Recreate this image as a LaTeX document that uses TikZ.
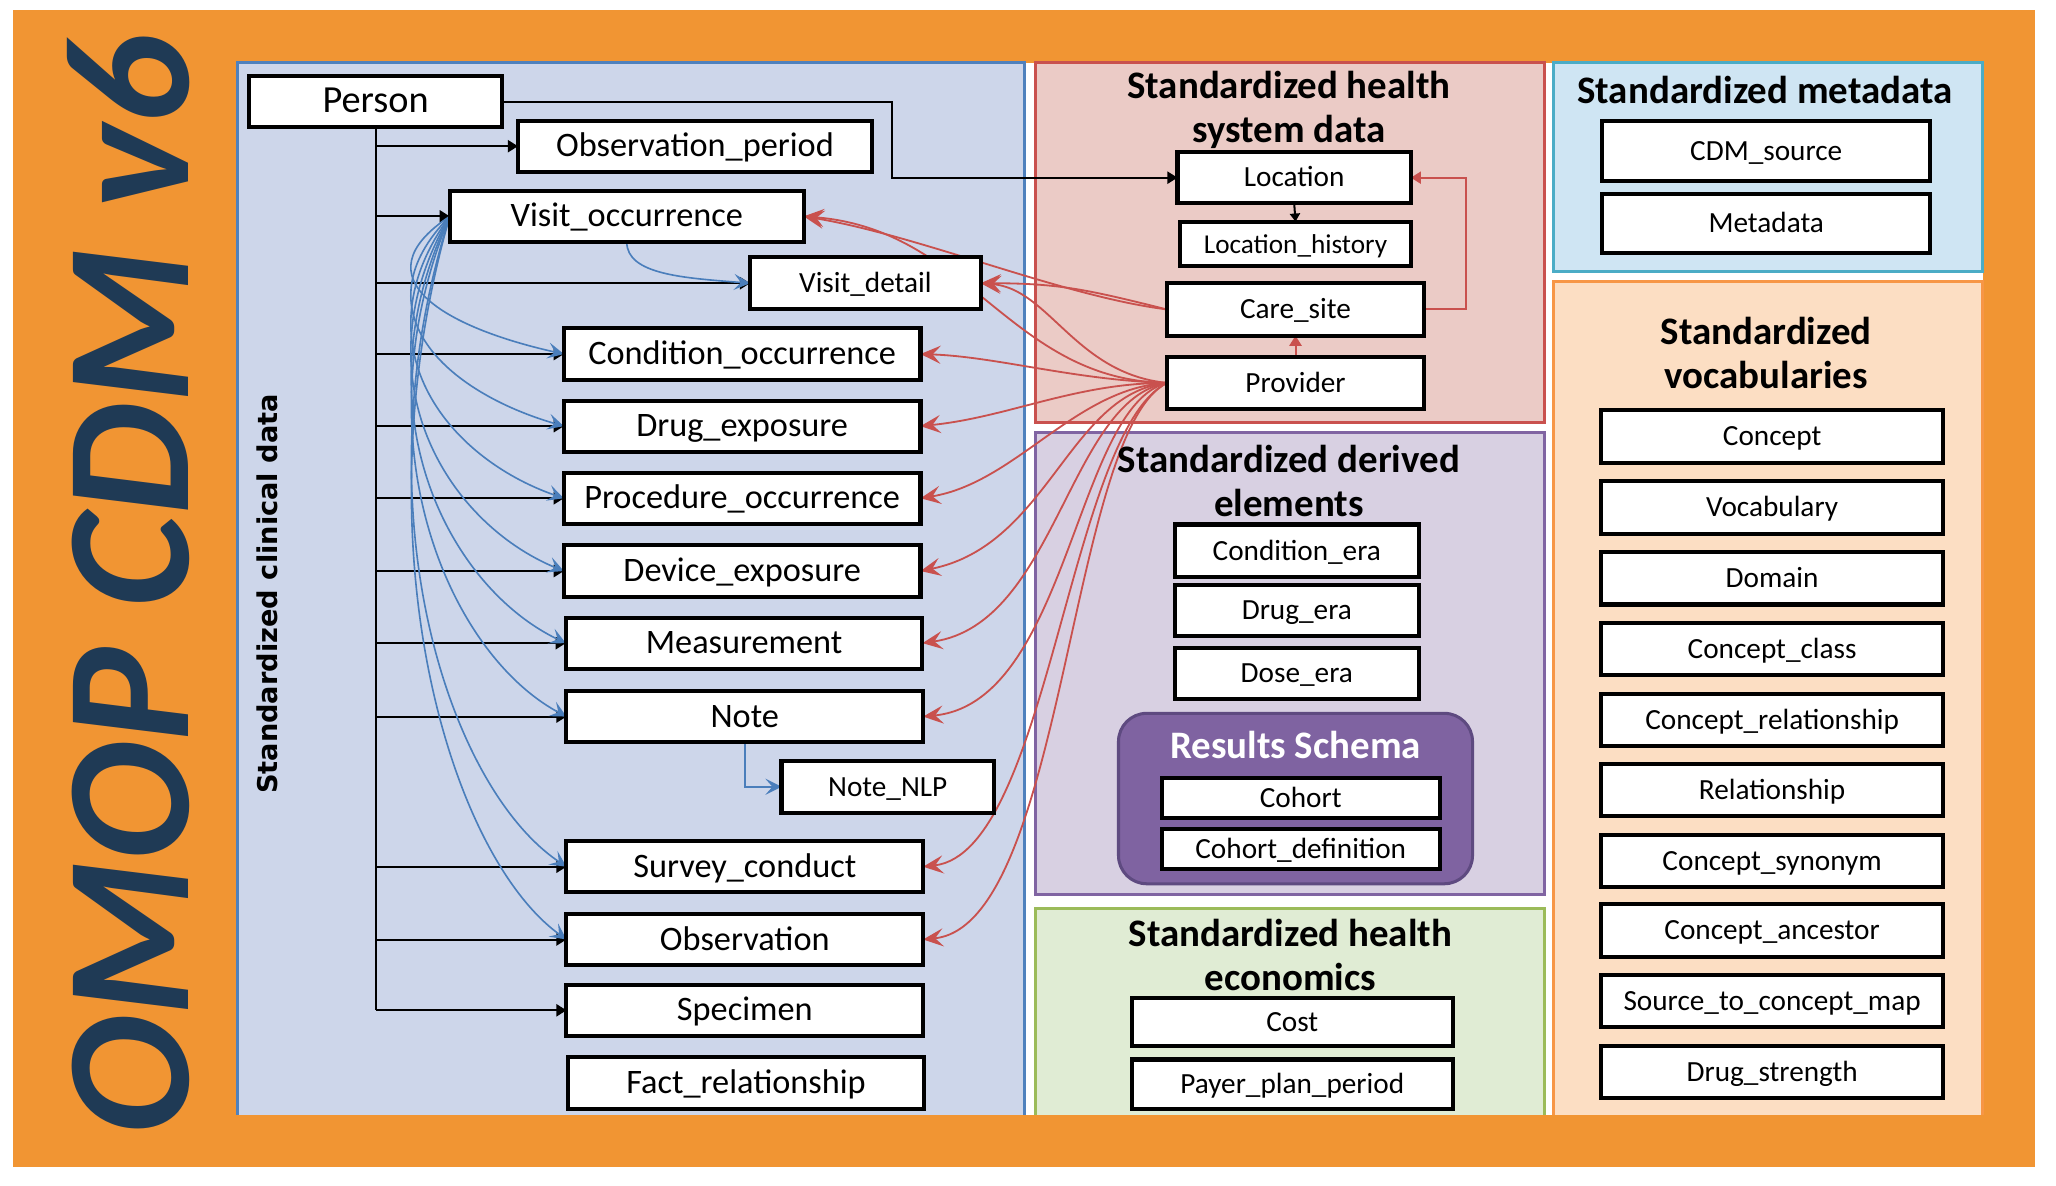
\documentclass[tikz,border=0pt]{standalone}
\usepackage{fontspec}
\setmainfont{Carlito}
\newfontfamily\labelfont{DejaVu Sans}
\usetikzlibrary{arrows.meta,calc}
\pgfdeclarelayer{back}
\pgfdeclarelayer{links}
\pgfsetlayers{back,links,main}
\definecolor{bgorange}{HTML}{F19533}
\definecolor{titlenavy}{HTML}{1F3A55}
\definecolor{clinfill}{HTML}{CDD6EA}
\definecolor{clinline}{HTML}{4F81BD}
\definecolor{sysfill}{HTML}{EBCBC6}
\definecolor{sysline}{HTML}{C9514E}
\definecolor{derfill}{HTML}{D8D0E2}
\definecolor{derline}{HTML}{8064A2}
\definecolor{ecofill}{HTML}{E0ECD4}
\definecolor{ecoline}{HTML}{9BBB59}
\definecolor{metafill}{HTML}{CFE5F3}
\definecolor{metaline}{HTML}{4BACC6}
\definecolor{vocfill}{HTML}{FCDEC3}
\definecolor{vocline}{HTML}{F79646}
\definecolor{resfill}{HTML}{7F63A1}
\definecolor{resline}{HTML}{5E4A80}
\definecolor{bluelink}{HTML}{4A7EBB}
\definecolor{redlink}{HTML}{C9514E}

\begin{document}
\begin{tikzpicture}[y=0.65pt, x=0.65pt, yscale=-1, inner sep=0pt, outer sep=0pt,
  tab/.style={draw=black, fill=white, line width=2pt},
  bigtab/.style={tab, minimum width=176.8pt, minimum height=25.4pt,
    text height=12.5pt, text depth=2pt, font=\fontsize{17}{20}\selectfont},
  smalltab/.style={tab, minimum height=26pt, text height=10.5pt, text depth=1.3pt,
    font=\fontsize{14.5}{17}\selectfont},
  paneltitle/.style={align=center, font=\fontsize{19.3}{21.8}\selectfont\bfseries},
  feed/.style={draw=black, line width=1pt, -{Triangle[length=5pt,width=6pt]}},
  visitlink/.style={draw=bluelink, line width=0.8pt, -{Stealth[length=8pt,width=8pt,inset=3.5pt]}},
  carelink/.style={draw=redlink, line width=0.9pt, -{Stealth[length=10pt,width=9pt,inset=4pt]}}]
\useasboundingbox (0,0) rectangle (1568,904);

% panels
\begin{pgfonlayer}{back}
  \path[fill=bgorange] (10,8) rectangle (1552,890);
  \path[fill=white] (181,48) rectangle (1512,850);
  \path[fill=clinfill] (181,48) rectangle (781,850);
  \path[draw=clinline, line width=1.5pt] (181,850) -- (181,48) -- (781,48) -- (781,850);
  \path[draw=sysline, fill=sysfill, line width=1.5pt] (790,48) rectangle (1178,322);
  \path[draw=derline, fill=derfill, line width=1.5pt] (790,330) rectangle (1178,682);
  \path[fill=ecofill] (790,693) rectangle (1178,850);
  \path[draw=ecoline, line width=1.5pt] (790,850) -- (790,693) -- (1178,693) -- (1178,850);
  \path[draw=metaline, fill=metafill, line width=1.5pt] (1185,48) rectangle (1512,207);
  \path[fill=vocfill] (1185,215) rectangle (1512,850);
  \path[draw=vocline, line width=1.5pt] (1185,850) -- (1185,215) -- (1512,215) -- (1512,850);
  \path[draw=resline, fill=resfill, line width=1.5pt, rounded corners=14pt] (853,544) rectangle (1123,674);
\end{pgfonlayer}

\node[rotate=90, text=titlenavy, font=\fontsize{88}{88}\selectfont\bfseries\itshape] (omop) at (98,446) {OMOP CDM v6};
\node[rotate=90, font=\labelfont\bfseries\fontsize{13.5}{16}\selectfont] (clinlabel) at (204,453) {Standardized clinical data};

% clinical data
\node[bigtab, minimum width=125.5pt, font=\fontsize{19}{22}\selectfont] (person) at (286.5,77.5) {Person};
\node[bigtab, minimum width=175.5pt] (obsperiod) at (530,111.5) {Observation\_period};
\node[bigtab, minimum width=175.5pt] (visitocc) at (478,165) {Visit\_occurrence};
\node[smalltab, minimum width=114.4pt] (visitdet) at (660,216) {Visit\_detail};
\node[bigtab] (condocc) at (566,270) {Condition\_occurrence};
\node[bigtab] (drugexp) at (566,325) {Drug\_exposure};
\node[bigtab] (prococc) at (566,380) {Procedure\_occurrence};
\node[bigtab] (devexp) at (566,435.5) {Device\_exposure};
\node[bigtab] (meas) at (567.5,490.5) {Measurement};
\node[bigtab] (note) at (568,546.5) {Note};
\node[smalltab, minimum width=105.3pt] (notenlp) at (677,600) {Note\_NLP};
\node[bigtab] (survey) at (568,661) {Survey\_conduct};
\node[bigtab] (obs) at (568,716.5) {Observation};
\node[bigtab] (specimen) at (568,770.5) {Specimen};
\node[bigtab] (factrel) at (569,826) {Fact\_relationship};

% health system data
\node[paneltitle] (systitle) at (983,84) {Standardized health\\system data};
\node[smalltab, minimum width=115.7pt, minimum height=25.4pt] (location) at (987,135.5) {Location};
\node[smalltab, minimum width=114.4pt, minimum height=22.1pt, font=\fontsize{13.5}{16}\selectfont] (lochist) at (988,186) {Location\_history};
\node[smalltab, minimum width=127.4pt] (caresite) at (988,236) {Care\_site};
\node[smalltab, minimum width=127.4pt] (provider) at (988,292) {Provider};

% metadata
\node[paneltitle] (metatitle) at (1346,69) {Standardized metadata};
\node[smalltab, minimum width=162.5pt, minimum height=29.9pt] (cdmsource) at (1347,115) {CDM\_source};
\node[smalltab, minimum width=162.5pt, minimum height=29.3pt] (metadata) at (1347,170.5) {Metadata};

% vocabularies
\node[paneltitle] (voctitle) at (1347,269) {Standardized\\vocabularies};
\node[smalltab, minimum width=169.7pt] (concept) at (1351.5,333) {Concept};
\node[smalltab, minimum width=169.7pt] (vocabulary) at (1351.5,387) {Vocabulary};
\node[smalltab, minimum width=169.7pt] (domain) at (1351.5,441) {Domain};
\node[smalltab, minimum width=169.7pt] (conceptclass) at (1351.5,495) {Concept\_class};
\node[smalltab, minimum width=169.7pt] (conceptrel) at (1351.5,549) {Concept\_relationship};
\node[smalltab, minimum width=169.7pt] (relationship) at (1351.5,602.5) {Relationship};
\node[smalltab, minimum width=169.7pt] (conceptsyn) at (1351.5,656.5) {Concept\_synonym};
\node[smalltab, minimum width=169.7pt] (conceptanc) at (1351.5,709.5) {Concept\_ancestor};
\node[smalltab, minimum width=169.7pt] (sourcemap) at (1351.5,763.5) {Source\_to\_concept\_map};
\node[smalltab, minimum width=169.7pt] (drugstrength) at (1351.5,817.5) {Drug\_strength};

% derived elements
\node[paneltitle] (dertitle) at (983,367) {Standardized derived\\elements};
\node[smalltab, minimum width=120.9pt] (condera) at (989,420) {Condition\_era};
\node[smalltab, minimum width=120.9pt, minimum height=25.4pt] (drugera) at (989,465.5) {Drug\_era};
\node[smalltab, minimum width=120.9pt, minimum height=25.4pt] (doseera) at (989,513.5) {Dose\_era};
\node[paneltitle, text=white] (restitle) at (988,568) {Results Schema};
\node[smalltab, minimum width=137.8pt, minimum height=20.2pt] (cohort) at (992,608.5) {Cohort};
\node[smalltab, minimum width=137.8pt, minimum height=20.2pt] (cohortdef) at (992,647.5) {Cohort\_definition};

% health economics
\node[paneltitle] (ecotitle) at (984,728) {Standardized health\\economics};
\node[smalltab, minimum width=159.3pt, minimum height=24.1pt] (cost) at (985.5,779.5) {Cost};
\node[smalltab, minimum width=159.3pt, minimum height=24.7pt] (payer) at (985.5,827) {Payer\_plan\_period};

\coordinate (locbend) at (680,0);

\begin{pgfonlayer}{links}
  % person
  \draw[black, line width=1pt] (person.south) -- (person.south |- specimen.west);
  \draw[feed] (person.south |- obsperiod.west) -- (obsperiod.west);
  \draw[feed] (person.south |- visitocc.west) -- (visitocc.west);
  \draw[feed] (person.south |- visitdet.west) -- (visitdet.west);
  \draw[feed] (person.south |- condocc.west) -- (condocc.west);
  \draw[feed] (person.south |- drugexp.west) -- (drugexp.west);
  \draw[feed] (person.south |- prococc.west) -- (prococc.west);
  \draw[feed] (person.south |- devexp.west) -- (devexp.west);
  \draw[feed] (person.south |- meas.west) -- (meas.west);
  \draw[feed] (person.south |- note.west) -- (note.west);
  \draw[feed] (person.south |- survey.west) -- (survey.west);
  \draw[feed] (person.south |- obs.west) -- (obs.west);
  \draw[feed] (person.south |- specimen.west) -- (specimen.west);
  \draw[feed] (person.east) -- (person.east -| locbend) |- (location.west);

  % visit_occurrence
  \draw[visitlink] (visitocc.south) .. controls ($(visitocc.south)+(0,25)$) and ($(visitdet.west)+(-50,-4)$) .. (visitdet.west);
  \draw[visitlink] (visitocc.west) .. controls ($(visitocc.west)+(-71,47)$) and ($(condocc.west)+(-90,-20)$) .. (condocc.west);
  \draw[visitlink] (visitocc.west) .. controls ($(visitocc.west)+(-71,72)$) and ($(drugexp.west)+(-90,-26)$) .. (drugexp.west);
  \draw[visitlink] (visitocc.west) .. controls ($(visitocc.west)+(-71,97)$) and ($(prococc.west)+(-90,-31)$) .. (prococc.west);
  \draw[visitlink] (visitocc.west) .. controls ($(visitocc.west)+(-71,122)$) and ($(devexp.west)+(-90,-37)$) .. (devexp.west);
  \draw[visitlink] (visitocc.west) .. controls ($(visitocc.west)+(-71,147)$) and ($(meas.west)+(-90,-43)$) .. (meas.west);
  \draw[visitlink] (visitocc.west) .. controls ($(visitocc.west)+(-71,171)$) and ($(note.west)+(-90,-48)$) .. (note.west);
  \draw[visitlink] (visitocc.west) .. controls ($(visitocc.west)+(-71,223)$) and ($(survey.west)+(-90,-60)$) .. (survey.west);
  \draw[visitlink] (visitocc.west) .. controls ($(visitocc.west)+(-71,248)$) and ($(obs.west)+(-90,-65)$) .. (obs.west);
  \draw[visitlink] (note.south) |- (notenlp.west);

  % care_site and provider
  \draw[feed, -{Triangle[length=4pt,width=5pt]}] (location.south) -- (lochist.north);
  \draw[draw=redlink, line width=1pt, -{Triangle[length=5pt,width=6pt]}] (provider.north) -- (caresite.south);
  \draw[draw=redlink, line width=1pt, -{Triangle[length=5pt,width=6pt]}] (caresite.east) -- ++(32,0) |- (location.east);
  \draw[carelink] (caresite.west) .. controls ($(caresite.west)+(-80,-10)$) and ($(visitocc.east)+(90,15)$) .. (visitocc.east);
  \draw[carelink] (caresite.west) .. controls ($(caresite.west)+(-60,-15)$) and ($(visitdet.east)+(60,0)$) .. (visitdet.east);
  \draw[carelink] (provider.west) .. controls ($(provider.west)+(-120,-2)$) and ($(visitocc.east)+(127,10)$) .. (visitocc.east);
  \draw[carelink] (provider.west) .. controls ($(provider.west)+(-70,-7)$) and ($(visitdet.east)+(52,4)$) .. (visitdet.east);
  \draw[carelink] (provider.west) .. controls ($(provider.west)+(-70,-2)$) and ($(condocc.east)+(58,2)$) .. (condocc.east);
  \draw[carelink] (provider.west) .. controls ($(provider.west)+(-70,0)$) and ($(drugexp.east)+(68,-7)$) .. (drugexp.east);
  \draw[carelink] (provider.west) .. controls ($(provider.west)+(-70,4)$) and ($(prococc.east)+(73,-12)$) .. (prococc.east);
  \draw[carelink] (provider.west) .. controls ($(provider.west)+(-75,8)$) and ($(devexp.east)+(98,-20)$) .. (devexp.east);
  \draw[carelink] (provider.west) .. controls ($(provider.west)+(-75,13)$) and ($(meas.east)+(102,-15)$) .. (meas.east);
  \draw[carelink] (provider.west) .. controls ($(provider.west)+(-70,18)$) and ($(note.east)+(111,-11)$) .. (note.east);
  \draw[carelink] (provider.west) .. controls ($(provider.west)+(-75,38)$) and ($(survey.east)+(96,-11)$) .. (survey.east);
  \draw[carelink] (provider.west) .. controls ($(provider.west)+(-75,38)$) and ($(obs.east)+(108,-11)$) .. (obs.east);
\end{pgfonlayer}
\end{tikzpicture}
\end{document}
